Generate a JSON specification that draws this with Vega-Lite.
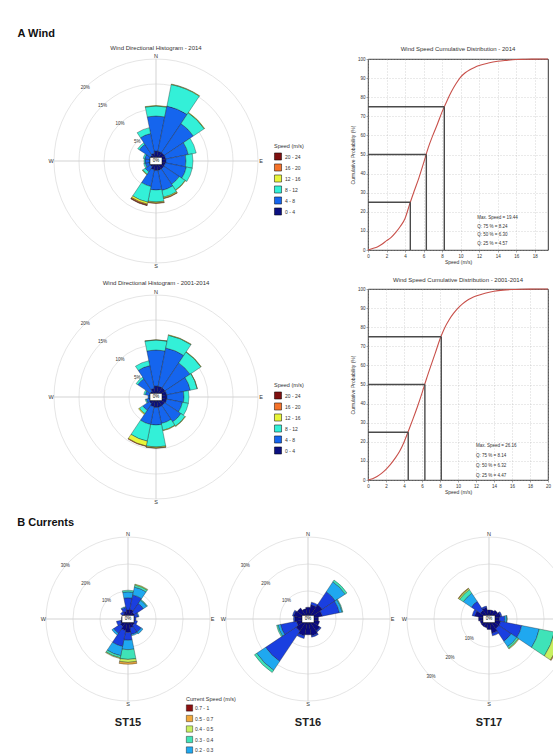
{
"$schema":"https://vega.github.io/schema/vega-lite/v6.json",
"padding":{"left":17,"top":27,"right":0,"bottom":0},
"background":"white",
"config":{
 "view":{"stroke":null},
 "font":"Liberation Sans",
 "title":{"font":"Liberation Sans","color":"#222"},
 "axis":{"labelFontSize":4.5,"titleFontSize":5,"titleFontWeight":"normal","tickSize":2,"labelPadding":1,"titlePadding":2,"domain":false,"grid":true,"gridDash":[1,2],"gridColor":"#aaaaaa","gridWidth":0.5,"labelColor":"#333","titleColor":"#333","tickColor":"#555","tickWidth":0.5,"labelOverlap":false,"labelFlush":false,"tickCount":30},
 "legend":{"labelFont":"Liberation Sans","titleFont":"Liberation Sans"}
},
"datasets":{
 "dirs":[{"a":0,"t":"N"},{"a":90,"t":"E"},{"a":180,"t":"S"},{"a":270,"t":"W"}],
 "wring":[{"p":5,"t":"5%"},{"p":10,"t":"10%"},{"p":15,"t":"15%"},{"p":20,"t":"20%"}],
 "cring":[{"p":10,"t":"10%"},{"p":20,"t":"20%"},{"p":30,"t":"30%"}],
 "zero":[{"t":"0%"}],
 "w14":[
  {"d0":-11.25,"d1":11.25,"f0":1.6,"f1":7.0,"f2":2.0,"f3":0.1},
  {"d0":11.25,"d1":33.75,"f0":1.6,"f1":9.2,"f2":4.4,"f3":0.1},
  {"d0":33.75,"d1":56.25,"f0":1.6,"f1":7.0,"f2":2.6,"f3":0.1},
  {"d0":56.25,"d1":78.75,"f0":1.6,"f1":4.6,"f2":1.6},
  {"d0":78.75,"d1":101.25,"f0":1.6,"f1":4.0,"f2":1.4},
  {"d0":101.25,"d1":123.75,"f0":1.5,"f1":4.3,"f2":1.2},
  {"d0":123.75,"d1":146.25,"f0":1.5,"f1":3.7,"f2":1.4,"f3":0.1},
  {"d0":146.25,"d1":168.75,"f0":1.5,"f1":4.1,"f2":1.4,"f3":0.2,"f4":0.1},
  {"d0":168.75,"d1":191.25,"f0":1.5,"f1":3.9,"f2":2.4,"f3":0.2,"f4":0.1},
  {"d0":191.25,"d1":213.75,"f0":1.4,"f1":3.4,"f2":3.2,"f3":0.4,"f4":0.2,"f5":0.1},
  {"d0":213.75,"d1":236.25,"f0":1.0,"f1":1.2,"f2":0.6,"f3":0.1},
  {"d0":236.25,"d1":258.75,"f0":1.0,"f1":0.8,"f2":0.3},
  {"d0":258.75,"d1":281.25,"f0":0.8,"f1":1.0,"f2":0.2},
  {"d0":281.25,"d1":303.75,"f0":0.9,"f1":1.0,"f2":0.3},
  {"d0":303.75,"d1":326.25,"f0":1.0,"f1":2.6,"f2":0.4},
  {"d0":326.25,"d1":348.75,"f0":1.2,"f1":4.0,"f2":1.2}
 ],
 "w0114":[
  {"d0":-11.25,"d1":11.25,"f0":1.8,"f1":7.2,"f2":2.0,"f3":0.05},
  {"d0":11.25,"d1":33.75,"f0":1.8,"f1":7.8,"f2":2.6,"f3":0.1},
  {"d0":33.75,"d1":56.25,"f0":1.8,"f1":6.0,"f2":2.6,"f3":0.1},
  {"d0":56.25,"d1":78.75,"f0":1.8,"f1":4.8,"f2":1.4,"f3":0.05},
  {"d0":78.75,"d1":101.25,"f0":1.8,"f1":3.4,"f2":1.0},
  {"d0":101.25,"d1":123.75,"f0":1.8,"f1":3.2,"f2":1.2},
  {"d0":123.75,"d1":146.25,"f0":1.7,"f1":3.9,"f2":1.0,"f3":0.1},
  {"d0":146.25,"d1":168.75,"f0":1.7,"f1":3.3,"f2":1.4,"f3":0.1},
  {"d0":168.75,"d1":191.25,"f0":1.7,"f1":3.5,"f2":4.4,"f3":0.2,"f4":0.05},
  {"d0":191.25,"d1":213.75,"f0":1.6,"f1":3.6,"f2":3.4,"f3":1.0,"f4":0.1},
  {"d0":213.75,"d1":236.25,"f0":1.2,"f1":1.6,"f2":0.8,"f3":0.2},
  {"d0":236.25,"d1":258.75,"f0":1.0,"f1":0.6,"f2":0.2},
  {"d0":258.75,"d1":281.25,"f0":0.8,"f1":0.4},
  {"d0":281.25,"d1":303.75,"f0":0.9,"f1":0.9,"f2":0.3},
  {"d0":303.75,"d1":326.25,"f0":1.0,"f1":3.0,"f2":0.4},
  {"d0":326.25,"d1":348.75,"f0":1.4,"f1":4.6,"f2":1.0}
 ],
 "s15":[
  {"d0":-11.25,"d1":11.25,"f0":3.0,"f1":4.5,"f2":2.2,"f3":0.6},
  {"d0":11.25,"d1":33.75,"f0":3.2,"f1":5.5,"f2":3.0,"f3":0.8,"f4":0.3},
  {"d0":33.75,"d1":56.25,"f0":2.5,"f1":4.0,"f2":1.5,"f3":0.3},
  {"d0":56.25,"d1":78.75,"f0":2.0,"f1":1.5,"f2":0.3},
  {"d0":78.75,"d1":101.25,"f0":1.8,"f1":0.8},
  {"d0":101.25,"d1":123.75,"f0":2.0,"f1":1.2},
  {"d0":123.75,"d1":146.25,"f0":2.5,"f1":3.0,"f2":0.8},
  {"d0":146.25,"d1":168.75,"f0":3.0,"f1":2.5,"f2":0.5},
  {"d0":168.75,"d1":191.25,"f0":4.6,"f1":2.9,"f2":3.5,"f3":3.6,"f4":1.1,"f5":0.7},
  {"d0":191.25,"d1":213.75,"f0":4.0,"f1":6.0,"f2":3.5,"f3":0.8,"f4":0.3},
  {"d0":213.75,"d1":236.25,"f0":3.0,"f1":3.0,"f2":0.8},
  {"d0":236.25,"d1":258.75,"f0":2.5,"f1":1.5},
  {"d0":258.75,"d1":281.25,"f0":1.5,"f1":0.5},
  {"d0":281.25,"d1":303.75,"f0":1.5,"f1":0.5},
  {"d0":303.75,"d1":326.25,"f0":2.0,"f1":1.0},
  {"d0":326.25,"d1":348.75,"f0":2.5,"f1":1.5,"f2":0.3}
 ],
 "s16":[
  {"d0":-11.25,"d1":11.25,"f0":4.0},
  {"d0":11.25,"d1":33.75,"f0":5.0,"f1":1.0},
  {"d0":33.75,"d1":56.25,"f0":6.0,"f1":5.8,"f2":4.4,"f3":0.8},
  {"d0":56.25,"d1":78.75,"f0":5.0,"f1":6.5,"f2":1.0,"f3":0.3},
  {"d0":78.75,"d1":101.25,"f0":3.5},
  {"d0":101.25,"d1":123.75,"f0":4.0},
  {"d0":123.75,"d1":146.25,"f0":5.0,"f1":0.5},
  {"d0":146.25,"d1":168.75,"f0":6.0,"f1":0.5},
  {"d0":168.75,"d1":191.25,"f0":5.5},
  {"d0":191.25,"d1":213.75,"f0":6.0,"f1":1.0},
  {"d0":213.75,"d1":236.25,"f0":5.0,"f1":13.5,"f2":4.0,"f3":1.0},
  {"d0":236.25,"d1":258.75,"f0":4.0,"f1":6.0,"f2":1.0,"f3":0.5},
  {"d0":258.75,"d1":281.25,"f0":4.5,"f1":0.5},
  {"d0":281.25,"d1":303.75,"f0":5.0,"f1":0.5},
  {"d0":303.75,"d1":326.25,"f0":4.5},
  {"d0":326.25,"d1":348.75,"f0":3.5}
 ],
 "s17":[
  {"d0":-11.25,"d1":11.25,"f0":3.0},
  {"d0":11.25,"d1":33.75,"f0":3.0},
  {"d0":33.75,"d1":56.25,"f0":3.5},
  {"d0":56.25,"d1":78.75,"f0":4.0,"f1":0.5},
  {"d0":78.75,"d1":101.25,"f0":3.5,"f1":2.0,"f2":0.7,"f3":0.2},
  {"d0":101.25,"d1":123.75,"f0":4.0,"f1":8.0,"f2":6.6,"f3":5.7,"f4":2.7,"f5":0.3},
  {"d0":123.75,"d1":146.25,"f0":4.0,"f1":5.5,"f2":2.5,"f3":0.7,"f4":0.3},
  {"d0":146.25,"d1":168.75,"f0":5.0,"f1":1.0},
  {"d0":168.75,"d1":191.25,"f0":3.5},
  {"d0":191.25,"d1":213.75,"f0":3.0},
  {"d0":213.75,"d1":236.25,"f0":3.0},
  {"d0":236.25,"d1":258.75,"f0":3.0},
  {"d0":258.75,"d1":281.25,"f0":3.5},
  {"d0":281.25,"d1":303.75,"f0":5.0,"f1":1.0},
  {"d0":303.75,"d1":326.25,"f0":3.5,"f1":4.0,"f2":3.6,"f3":1.6,"f4":0.5,"f5":0.2},
  {"d0":326.25,"d1":348.75,"f0":4.0,"f1":0.5}
 ],
 "c14":[
  {"s":0,"p":0},{"s":0.5,"p":0.8},{"s":1,"p":1.6},{"s":1.5,"p":3.0},{"s":2,"p":4.9},{"s":2.5,"p":6.6},{"s":3,"p":9.2},{"s":3.5,"p":12.4},{"s":4,"p":16.5},{"s":4.5,"p":24.0},{"s":5,"p":31.0},{"s":5.5,"p":37.8},{"s":6,"p":45.5},{"s":6.5,"p":53.5},{"s":7,"p":60.0},{"s":7.5,"p":66.0},{"s":8,"p":72.3},{"s":8.5,"p":77.8},{"s":9,"p":82.8},{"s":9.5,"p":87.0},{"s":10,"p":90.5},{"s":10.5,"p":92.8},{"s":11,"p":94.4},{"s":11.5,"p":95.6},{"s":12,"p":96.6},{"s":13,"p":97.9},{"s":14,"p":98.8},{"s":15,"p":99.3},{"s":16,"p":99.7},{"s":17,"p":99.85},{"s":18,"p":99.95},{"s":19.44,"p":100}
 ],
 "c0114":[
  {"s":0,"p":0},{"s":0.5,"p":0.6},{"s":1,"p":1.8},{"s":1.5,"p":3.5},{"s":2,"p":5.6},{"s":2.5,"p":8.2},{"s":3,"p":11.3},{"s":3.5,"p":14.9},{"s":4,"p":19.8},{"s":4.5,"p":25.8},{"s":5,"p":32.0},{"s":5.5,"p":38.5},{"s":6,"p":45.5},{"s":6.5,"p":53.0},{"s":7,"p":60.0},{"s":7.5,"p":66.8},{"s":8,"p":73.8},{"s":8.5,"p":79.5},{"s":9,"p":83.8},{"s":9.5,"p":87.2},{"s":10,"p":90.0},{"s":10.5,"p":92.2},{"s":11,"p":94.0},{"s":11.5,"p":95.3},{"s":12,"p":96.3},{"s":13,"p":97.8},{"s":14,"p":98.8},{"s":15,"p":99.4},{"s":16,"p":99.7},{"s":17,"p":99.85},{"s":18,"p":99.93},{"s":19,"p":99.97},{"s":20,"p":100}
 ],
 "q14":[{"p":25,"q":4.57},{"p":50,"q":6.3},{"p":75,"q":8.24}],
 "q0114":[{"p":25,"q":4.47},{"p":50,"q":6.32},{"p":75,"q":8.14}]
},
"spacing":11,
"resolve":{"scale":{"color":"independent","radius":"independent","theta":"independent"},"legend":{"color":"independent"}},
"vconcat":[
 {
  "title":{"text":"A    Wind","anchor":"start","fontSize":11,"fontWeight":"bold","dx":-28.5,"offset":6,"color":"#111"},
  "columns":2,"bounds":"flush","align":"each","spacing":{"row":26,"column":102},
  "resolve":{"scale":{"color":"independent","radius":"independent","theta":"independent","x":"independent","y":"independent"},"legend":{"color":"independent"}},
  "concat":[
   {
    "width":220,"height":204,
    "title":{"text":"Wind Directional Histogram - 2014","fontSize":6,"fontWeight":"normal","color":"#333","frame":"group","offset":3.5},
    "layer":[
     {"data":{"name":"wring"},"mark":{"type":"arc","theta":0,"theta2":6.2832,"filled":false,"stroke":"#d4d4d4","strokeWidth":0.6},"encoding":{"radius":{"field":"p","type":"quantitative","scale":{"type":"linear","domain":[0,20],"range":[2,102]},"stack":null}}},
     {"data":{"name":"dirs"},"mark":{"type":"arc","filled":false,"stroke":"#d4d4d4","strokeWidth":0.6},"encoding":{"theta":{"field":"a","type":"quantitative","scale":{"domain":[0,360],"range":[0,6.283185]},"stack":null},"theta2":{"field":"a"},"radius":{"datum":20,"type":"quantitative","scale":{"type":"linear","domain":[0,20],"range":[2,102]}}}},
     {"data":{"name":"w14"},"transform":[{"fold":["f0","f1","f2","f3","f4","f5"],"as":["band","f"]},{"filter":"datum.f > 0"},{"stack":"f","groupby":["d0"],"sort":[{"field":"band","order":"ascending"}],"as":["r0","r1"]}],
      "mark":{"type":"arc","stroke":"#1a1a1a","strokeWidth":0.35},
      "encoding":{"theta":{"field":"d0","type":"quantitative","scale":{"domain":[0,360],"range":[0,6.283185]},"stack":null},"theta2":{"field":"d1"},
       "radius":{"field":"r1","type":"quantitative","scale":{"type":"linear","domain":[0,20],"range":[2,102]},"stack":null},"radius2":{"field":"r0"},
       "color":{"field":"band","type":"nominal","scale":{"domain":["f5","f4","f3","f2","f1","f0"],"range":["#7f1010","#f5732a","#e8f53a","#33f0d8","#1565ee","#0b1080"]},
        "legend":{"orient":"none","legendX":228,"legendY":85,"title":"Speed (m/s)","titleFontSize":5.5,"titleFontWeight":"normal","titleColor":"#333","titlePadding":3,"labelFontSize":5,"labelColor":"#333","symbolType":"square","symbolSize":50,"symbolStrokeColor":"#000","symbolStrokeWidth":0.5,"rowPadding":1,"labelOffset":3,"labelExpr":"['0 - 4','4 - 8','8 - 12','12 - 16','16 - 20','20 - 24'][toNumber(substring(datum.value,1))]"}}}},
     {"data":{"name":"wring"},"mark":{"type":"text","fontSize":4.5,"color":"#333"},"encoding":{"theta":{"datum":316,"type":"quantitative","scale":{"domain":[0,360],"range":[0,6.283185]}},"radius":{"field":"p","type":"quantitative","scale":{"type":"linear","domain":[0,20],"range":[2,102]},"stack":null},"text":{"field":"t"}}},
     {"data":{"name":"dirs"},"mark":{"type":"text","fontSize":5.5,"color":"#333"},"encoding":{"theta":{"field":"a","type":"quantitative","scale":{"domain":[0,360],"range":[0,6.283185]},"stack":null},"radius":{"datum":20.6,"type":"quantitative","scale":{"type":"linear","domain":[0,20],"range":[2,102]}},"text":{"field":"t"}}},
     {"data":{"name":"zero"},"mark":{"type":"point","shape":"M-2,-1.2H2V1.2H-2Z","size":36,"filled":true,"fill":"white","stroke":"black","strokeWidth":0.5,"opacity":1},"encoding":{}},
     {"data":{"name":"zero"},"mark":{"type":"text","fontSize":4.5,"color":"#000"},"encoding":{"text":{"field":"t"}}}
    ]
   },
   {
    "width":180,"height":191,
    "view":{"stroke":"#000","strokeWidth":0.8},
    "title":{"text":"Wind Speed Cumulative Distribution - 2014","fontSize":6,"fontWeight":"normal","color":"#333","frame":"group","offset":4.5},
    "layer":[
     {"data":{"name":"c14"},"mark":{"type":"line","color":"#c8504a","strokeWidth":1.1,"interpolate":"monotone"},"encoding":{"x":{"field":"s","type":"quantitative","scale":{"domain":[0,19.44],"nice":false,"zero":false},"axis":{"values":[0,2,4,6,8,10,12,14,16,18],"tickCount":30,"format":"d","title":"Speed (m/s)","labelOverlap":false,"labelFlush":false}},"y":{"field":"p","type":"quantitative","scale":{"domain":[0,100],"nice":false},"axis":{"values":[0,10,20,30,40,50,60,70,80,90,100],"tickCount":30,"format":"d","title":"Cumulative Probability (%)","labelOverlap":false,"labelFlush":false}}}},
     {"data":{"name":"q14"},"mark":{"type":"rule","color":"#4a4a4a","strokeWidth":1.4},"encoding":{"x":{"field":"q","type":"quantitative","axis":{"values":[0,2,4,6,8,10,12,14,16,18],"tickCount":30,"format":"d","title":"Speed (m/s)","labelOverlap":false,"labelFlush":false}},"x2":{"datum":0},"y":{"field":"p","type":"quantitative","axis":{"values":[0,10,20,30,40,50,60,70,80,90,100],"tickCount":30,"format":"d","title":"Cumulative Probability (%)","labelOverlap":false,"labelFlush":false}}}},
     {"data":{"name":"q14"},"mark":{"type":"rule","color":"#4a4a4a","strokeWidth":1.4},"encoding":{"x":{"field":"q","type":"quantitative","axis":{"values":[0,2,4,6,8,10,12,14,16,18],"tickCount":30,"format":"d","title":"Speed (m/s)","labelOverlap":false,"labelFlush":false}},"y":{"field":"p","type":"quantitative","axis":{"values":[0,10,20,30,40,50,60,70,80,90,100],"tickCount":30,"format":"d","title":"Cumulative Probability (%)","labelOverlap":false,"labelFlush":false}},"y2":{"datum":0}}},
     {"data":{"values":[{}]},"mark":{"type":"text","text":["Max. Speed = 19.44","Q: 75 % = 8.24","Q: 50 % = 6.30","Q: 25 % = 4.57"],"align":"left","baseline":"top","fontSize":4.5,"lineHeight":8.7,"color":"#333"},"encoding":{"x":{"datum":11.8,"type":"quantitative"},"y":{"datum":18.3,"type":"quantitative"}}}
    ]
   },
   {
    "width":220,"height":216,
    "title":{"text":"Wind Directional Histogram - 2001-2014","fontSize":6,"fontWeight":"normal","color":"#333","frame":"group","offset":3.5},
    "layer":[
     {"data":{"name":"wring"},"mark":{"type":"arc","theta":0,"theta2":6.2832,"filled":false,"stroke":"#d4d4d4","strokeWidth":0.6},"encoding":{"radius":{"field":"p","type":"quantitative","scale":{"type":"linear","domain":[0,20],"range":[2,102]},"stack":null}}},
     {"data":{"name":"dirs"},"mark":{"type":"arc","filled":false,"stroke":"#d4d4d4","strokeWidth":0.6},"encoding":{"theta":{"field":"a","type":"quantitative","scale":{"domain":[0,360],"range":[0,6.283185]},"stack":null},"theta2":{"field":"a"},"radius":{"datum":20,"type":"quantitative","scale":{"type":"linear","domain":[0,20],"range":[2,102]}}}},
     {"data":{"name":"w0114"},"transform":[{"fold":["f0","f1","f2","f3","f4","f5"],"as":["band","f"]},{"filter":"datum.f > 0"},{"stack":"f","groupby":["d0"],"sort":[{"field":"band","order":"ascending"}],"as":["r0","r1"]}],
      "mark":{"type":"arc","stroke":"#1a1a1a","strokeWidth":0.35},
      "encoding":{"theta":{"field":"d0","type":"quantitative","scale":{"domain":[0,360],"range":[0,6.283185]},"stack":null},"theta2":{"field":"d1"},
       "radius":{"field":"r1","type":"quantitative","scale":{"type":"linear","domain":[0,20],"range":[2,102]},"stack":null},"radius2":{"field":"r0"},
       "color":{"field":"band","type":"nominal","scale":{"domain":["f5","f4","f3","f2","f1","f0"],"range":["#7f1010","#f5732a","#e8f53a","#33f0d8","#1565ee","#0b1080"]},
        "legend":{"orient":"none","legendX":228,"legendY":94,"title":"Speed (m/s)","titleFontSize":5.5,"titleFontWeight":"normal","titleColor":"#333","titlePadding":3,"labelFontSize":5,"labelColor":"#333","symbolType":"square","symbolSize":50,"symbolStrokeColor":"#000","symbolStrokeWidth":0.5,"rowPadding":1,"labelOffset":3,"labelExpr":"['0 - 4','4 - 8','8 - 12','12 - 16','16 - 20','20 - 24'][toNumber(substring(datum.value,1))]"}}}},
     {"data":{"name":"wring"},"mark":{"type":"text","fontSize":4.5,"color":"#333"},"encoding":{"theta":{"datum":316,"type":"quantitative","scale":{"domain":[0,360],"range":[0,6.283185]}},"radius":{"field":"p","type":"quantitative","scale":{"type":"linear","domain":[0,20],"range":[2,102]},"stack":null},"text":{"field":"t"}}},
     {"data":{"name":"dirs"},"mark":{"type":"text","fontSize":5.5,"color":"#333"},"encoding":{"theta":{"field":"a","type":"quantitative","scale":{"domain":[0,360],"range":[0,6.283185]},"stack":null},"radius":{"datum":20.6,"type":"quantitative","scale":{"type":"linear","domain":[0,20],"range":[2,102]}},"text":{"field":"t"}}},
     {"data":{"name":"zero"},"mark":{"type":"point","shape":"M-2,-1.2H2V1.2H-2Z","size":36,"filled":true,"fill":"white","stroke":"black","strokeWidth":0.5,"opacity":1},"encoding":{}},
     {"data":{"name":"zero"},"mark":{"type":"text","fontSize":4.5,"color":"#000"},"encoding":{"text":{"field":"t"}}}
    ]
   },
   {
    "width":180,"height":191,
    "view":{"stroke":"#000","strokeWidth":0.8},
    "title":{"text":"Wind Speed Cumulative Distribution - 2001-2014","fontSize":6,"fontWeight":"normal","color":"#333","frame":"group","offset":3.5},
    "layer":[
     {"data":{"name":"c0114"},"mark":{"type":"line","color":"#c8504a","strokeWidth":1.1,"interpolate":"monotone"},"encoding":{"x":{"field":"s","type":"quantitative","scale":{"domain":[0,20],"nice":false,"zero":false},"axis":{"values":[0,2,4,6,8,10,12,14,16,18,20],"tickCount":30,"format":"d","title":"Speed (m/s)","labelOverlap":false,"labelFlush":false}},"y":{"field":"p","type":"quantitative","scale":{"domain":[0,100],"nice":false},"axis":{"values":[0,10,20,30,40,50,60,70,80,90,100],"tickCount":30,"format":"d","title":"Cumulative Probability (%)","labelOverlap":false,"labelFlush":false}}}},
     {"data":{"name":"q0114"},"mark":{"type":"rule","color":"#4a4a4a","strokeWidth":1.4},"encoding":{"x":{"field":"q","type":"quantitative","axis":{"values":[0,2,4,6,8,10,12,14,16,18,20],"tickCount":30,"format":"d","title":"Speed (m/s)","labelOverlap":false,"labelFlush":false}},"x2":{"datum":0},"y":{"field":"p","type":"quantitative","axis":{"values":[0,10,20,30,40,50,60,70,80,90,100],"tickCount":30,"format":"d","title":"Cumulative Probability (%)","labelOverlap":false,"labelFlush":false}}}},
     {"data":{"name":"q0114"},"mark":{"type":"rule","color":"#4a4a4a","strokeWidth":1.4},"encoding":{"x":{"field":"q","type":"quantitative","axis":{"values":[0,2,4,6,8,10,12,14,16,18,20],"tickCount":30,"format":"d","title":"Speed (m/s)","labelOverlap":false,"labelFlush":false}},"y":{"field":"p","type":"quantitative","axis":{"values":[0,10,20,30,40,50,60,70,80,90,100],"tickCount":30,"format":"d","title":"Cumulative Probability (%)","labelOverlap":false,"labelFlush":false}},"y2":{"datum":0}}},
     {"data":{"values":[{}]},"mark":{"type":"text","text":["Max. Speed = 26.16","Q: 75 % = 8.14","Q: 50 % = 6.32","Q: 25 % = 4.47"],"align":"left","baseline":"top","fontSize":4.5,"lineHeight":10,"color":"#333"},"encoding":{"x":{"datum":12.0,"type":"quantitative"},"y":{"datum":19.4,"type":"quantitative"}}}
    ]
   }
  ]
 },
 {
  "title":{"text":"B    Currents","anchor":"start","fontSize":11,"fontWeight":"bold","dx":-23.5,"offset":1,"color":"#111"},
  "bounds":"flush","spacing":0,
  "resolve":{"scale":{"color":"independent","radius":"independent","theta":"independent"},"legend":{"color":"independent"}},
  "hconcat":[
   {
    "width":164,"height":180,
    "layer":[
     {"data":{"name":"cring"},"mark":{"type":"arc","theta":0,"theta2":6.2832,"filled":false,"stroke":"#d4d4d4","strokeWidth":0.6},"encoding":{"radius":{"field":"p","type":"quantitative","scale":{"type":"linear","domain":[0,30],"range":[1,82]},"stack":null}}},
     {"data":{"name":"dirs"},"mark":{"type":"arc","filled":false,"stroke":"#d4d4d4","strokeWidth":0.6},"encoding":{"theta":{"field":"a","type":"quantitative","scale":{"domain":[0,360],"range":[0,6.283185]},"stack":null},"theta2":{"field":"a"},"radius":{"datum":30,"type":"quantitative","scale":{"type":"linear","domain":[0,30],"range":[1,82]}}}},
     {"data":{"name":"s15"},"transform":[{"fold":["f0","f1","f2","f3","f4","f5","f6"],"as":["band","f"]},{"filter":"datum.f > 0"},{"stack":"f","groupby":["d0"],"sort":[{"field":"band","order":"ascending"}],"as":["r0","r1"]}],
      "mark":{"type":"arc","stroke":"#1a1a1a","strokeWidth":0.35},
      "encoding":{"theta":{"field":"d0","type":"quantitative","scale":{"domain":[0,360],"range":[0,6.283185]},"stack":null},"theta2":{"field":"d1"},
       "radius":{"field":"r1","type":"quantitative","scale":{"type":"linear","domain":[0,30],"range":[1,82]},"stack":null},"radius2":{"field":"r0"},
       "color":{"field":"band","type":"nominal","scale":{"domain":["f6","f5","f4","f3","f2","f1","f0"],"range":["#8c1010","#f2a93b","#c8f060","#3fe3b8","#1fa8f0","#1a3fe0","#0a0a82"]},
        "legend":{"orient":"none","legendX":140,"legendY":168,"title":"Current Speed (m/s)","titleFontSize":5.5,"titleFontWeight":"normal","titleColor":"#333","titlePadding":2,"labelFontSize":5,"labelColor":"#333","symbolType":"square","symbolSize":40,"symbolStrokeColor":"#000","symbolStrokeWidth":0.4,"rowPadding":1.5,"labelOffset":2,"labelExpr":"['0 - 0.1','0.1 - 0.2','0.2 - 0.3','0.3 - 0.4','0.4 - 0.5','0.5 - 0.7','0.7 - 1'][toNumber(substring(datum.value,1))]"}}}},
     {"data":{"name":"cring"},"mark":{"type":"text","fontSize":4.5,"color":"#333"},"encoding":{"theta":{"datum":310,"type":"quantitative","scale":{"domain":[0,360],"range":[0,6.283185]}},"radius":{"field":"p","type":"quantitative","scale":{"type":"linear","domain":[0,30],"range":[1,82]},"stack":null},"text":{"field":"t"}}},
     {"data":{"name":"dirs"},"mark":{"type":"text","fontSize":5.5,"color":"#333"},"encoding":{"theta":{"field":"a","type":"quantitative","scale":{"domain":[0,360],"range":[0,6.283185]},"stack":null},"radius":{"datum":31,"type":"quantitative","scale":{"type":"linear","domain":[0,30],"range":[1,82]}},"text":{"field":"t"}}},
     {"data":{"name":"zero"},"mark":{"type":"point","shape":"M-2,-1.2H2V1.2H-2Z","size":36,"filled":true,"fill":"white","stroke":"black","strokeWidth":0.5,"opacity":1},"encoding":{}},
     {"data":{"name":"zero"},"mark":{"type":"text","fontSize":4.5,"color":"#000"},"encoding":{"text":{"field":"t"}}},
     {"data":{"name":"zero"},"mark":{"type":"text","text":"ST15","fontSize":11,"fontWeight":"bold","color":"#222"},"encoding":{"theta":{"datum":180,"type":"quantitative","scale":{"domain":[0,360],"range":[0,6.283185]}},"radius":{"datum":38.2,"type":"quantitative","scale":{"type":"linear","domain":[0,30],"range":[1,82]}}}}
    ]
   },
   {
    "width":196,"height":180,
    "layer":[
     {"data":{"name":"cring"},"mark":{"type":"arc","theta":0,"theta2":6.2832,"filled":false,"stroke":"#d4d4d4","strokeWidth":0.6},"encoding":{"radius":{"field":"p","type":"quantitative","scale":{"type":"linear","domain":[0,30],"range":[1,82]},"stack":null}}},
     {"data":{"name":"dirs"},"mark":{"type":"arc","filled":false,"stroke":"#d4d4d4","strokeWidth":0.6},"encoding":{"theta":{"field":"a","type":"quantitative","scale":{"domain":[0,360],"range":[0,6.283185]},"stack":null},"theta2":{"field":"a"},"radius":{"datum":30,"type":"quantitative","scale":{"type":"linear","domain":[0,30],"range":[1,82]}}}},
     {"data":{"name":"s16"},"transform":[{"fold":["f0","f1","f2","f3","f4","f5","f6"],"as":["band","f"]},{"filter":"datum.f > 0"},{"stack":"f","groupby":["d0"],"sort":[{"field":"band","order":"ascending"}],"as":["r0","r1"]}],
      "mark":{"type":"arc","stroke":"#1a1a1a","strokeWidth":0.35},
      "encoding":{"theta":{"field":"d0","type":"quantitative","scale":{"domain":[0,360],"range":[0,6.283185]},"stack":null},"theta2":{"field":"d1"},
       "radius":{"field":"r1","type":"quantitative","scale":{"type":"linear","domain":[0,30],"range":[1,82]},"stack":null},"radius2":{"field":"r0"},
       "color":{"field":"band","type":"nominal","scale":{"domain":["f6","f5","f4","f3","f2","f1","f0"],"range":["#8c1010","#f2a93b","#c8f060","#3fe3b8","#1fa8f0","#1a3fe0","#0a0a82"]},"legend":null}}},
     {"data":{"name":"cring"},"mark":{"type":"text","fontSize":4.5,"color":"#333"},"encoding":{"theta":{"datum":310,"type":"quantitative","scale":{"domain":[0,360],"range":[0,6.283185]}},"radius":{"field":"p","type":"quantitative","scale":{"type":"linear","domain":[0,30],"range":[1,82]},"stack":null},"text":{"field":"t"}}},
     {"data":{"name":"dirs"},"mark":{"type":"text","fontSize":5.5,"color":"#333"},"encoding":{"theta":{"field":"a","type":"quantitative","scale":{"domain":[0,360],"range":[0,6.283185]},"stack":null},"radius":{"datum":31,"type":"quantitative","scale":{"type":"linear","domain":[0,30],"range":[1,82]}},"text":{"field":"t"}}},
     {"data":{"name":"zero"},"mark":{"type":"point","shape":"M-2,-1.2H2V1.2H-2Z","size":36,"filled":true,"fill":"white","stroke":"black","strokeWidth":0.5,"opacity":1},"encoding":{}},
     {"data":{"name":"zero"},"mark":{"type":"text","fontSize":4.5,"color":"#000"},"encoding":{"text":{"field":"t"}}},
     {"data":{"name":"zero"},"mark":{"type":"text","text":"ST16","fontSize":11,"fontWeight":"bold","color":"#222"},"encoding":{"theta":{"datum":180,"type":"quantitative","scale":{"domain":[0,360],"range":[0,6.283185]}},"radius":{"datum":38.2,"type":"quantitative","scale":{"type":"linear","domain":[0,30],"range":[1,82]}}}}
    ]
   },
   {
    "width":166,"height":180,
    "layer":[
     {"data":{"name":"cring"},"mark":{"type":"arc","theta":0,"theta2":6.2832,"filled":false,"stroke":"#d4d4d4","strokeWidth":0.6},"encoding":{"radius":{"field":"p","type":"quantitative","scale":{"type":"linear","domain":[0,30],"range":[1,82]},"stack":null}}},
     {"data":{"name":"dirs"},"mark":{"type":"arc","filled":false,"stroke":"#d4d4d4","strokeWidth":0.6},"encoding":{"theta":{"field":"a","type":"quantitative","scale":{"domain":[0,360],"range":[0,6.283185]},"stack":null},"theta2":{"field":"a"},"radius":{"datum":30,"type":"quantitative","scale":{"type":"linear","domain":[0,30],"range":[1,82]}}}},
     {"data":{"name":"s17"},"transform":[{"fold":["f0","f1","f2","f3","f4","f5","f6"],"as":["band","f"]},{"filter":"datum.f > 0"},{"stack":"f","groupby":["d0"],"sort":[{"field":"band","order":"ascending"}],"as":["r0","r1"]}],
      "mark":{"type":"arc","stroke":"#1a1a1a","strokeWidth":0.35},
      "encoding":{"theta":{"field":"d0","type":"quantitative","scale":{"domain":[0,360],"range":[0,6.283185]},"stack":null},"theta2":{"field":"d1"},
       "radius":{"field":"r1","type":"quantitative","scale":{"type":"linear","domain":[0,30],"range":[1,82]},"stack":null},"radius2":{"field":"r0"},
       "color":{"field":"band","type":"nominal","scale":{"domain":["f6","f5","f4","f3","f2","f1","f0"],"range":["#8c1010","#f2a93b","#c8f060","#3fe3b8","#1fa8f0","#1a3fe0","#0a0a82"]},"legend":null}}},
     {"data":{"name":"cring"},"mark":{"type":"text","fontSize":4.5,"color":"#333"},"encoding":{"theta":{"datum":225,"type":"quantitative","scale":{"domain":[0,360],"range":[0,6.283185]}},"radius":{"field":"p","type":"quantitative","scale":{"type":"linear","domain":[0,30],"range":[1,82]},"stack":null},"text":{"field":"t"}}},
     {"data":{"name":"dirs"},"mark":{"type":"text","fontSize":5.5,"color":"#333"},"encoding":{"theta":{"field":"a","type":"quantitative","scale":{"domain":[0,360],"range":[0,6.283185]},"stack":null},"radius":{"datum":31,"type":"quantitative","scale":{"type":"linear","domain":[0,30],"range":[1,82]}},"text":{"field":"t"}}},
     {"data":{"name":"zero"},"mark":{"type":"point","shape":"M-2,-1.2H2V1.2H-2Z","size":36,"filled":true,"fill":"white","stroke":"black","strokeWidth":0.5,"opacity":1},"encoding":{}},
     {"data":{"name":"zero"},"mark":{"type":"text","fontSize":4.5,"color":"#000"},"encoding":{"text":{"field":"t"}}},
     {"data":{"name":"zero"},"mark":{"type":"text","text":"ST17","fontSize":11,"fontWeight":"bold","color":"#222"},"encoding":{"theta":{"datum":180,"type":"quantitative","scale":{"domain":[0,360],"range":[0,6.283185]}},"radius":{"datum":38.2,"type":"quantitative","scale":{"type":"linear","domain":[0,30],"range":[1,82]}}}}
    ]
   }
  ]
 }
]
}
